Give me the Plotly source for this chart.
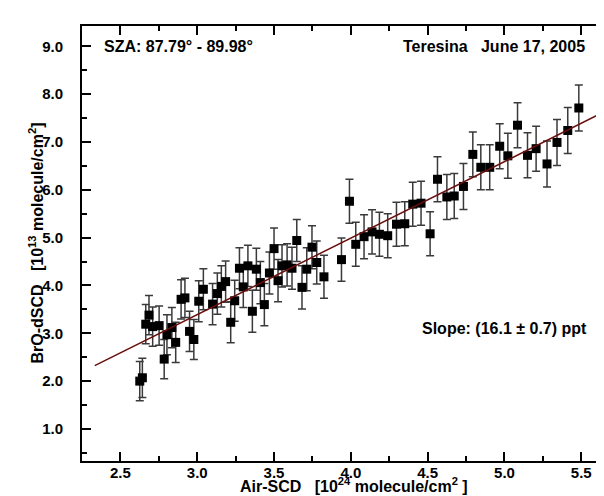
import plotly.graph_objects as go

# Data
air_scd = [2.626, 2.643, 2.665, 2.686, 2.710, 2.752, 2.785, 2.803, 2.835, 2.860,
           2.895, 2.920, 2.950, 2.978, 3.010, 3.040, 3.100, 3.131, 3.157, 3.185,
           3.218, 3.244, 3.275, 3.300, 3.330, 3.359, 3.385, 3.411, 3.437, 3.470,
           3.500, 3.526, 3.552, 3.585, 3.617, 3.648, 3.682, 3.713, 3.747, 3.778,
           3.825, 3.939, 3.991, 4.032, 4.086, 4.138, 4.186, 4.240, 4.297, 4.351,
           4.403, 4.457, 4.516, 4.564, 4.625, 4.673, 4.733, 4.794, 4.846, 4.904,
           4.969, 5.022, 5.085, 5.150, 5.206, 5.277, 5.342, 5.412, 5.484]
bro_dscd = [2.00, 2.07, 3.19, 3.38, 3.14, 3.16, 2.46, 2.97, 3.12, 2.81,
            3.71, 3.74, 3.04, 2.87, 3.67, 3.92, 3.61, 3.83, 3.98, 4.08,
            3.23, 3.68, 4.36, 3.97, 4.41, 3.46, 4.34, 4.06, 3.60, 4.26,
            4.77, 4.10, 4.41, 4.43, 4.36, 4.94, 3.96, 4.34, 4.80, 4.48,
            4.18, 4.54, 5.76, 4.86, 5.02, 5.12, 5.07, 5.04, 5.28, 5.29,
            5.70, 5.72, 5.08, 6.22, 5.85, 5.87, 6.07, 6.74, 6.47, 6.47,
            6.91, 6.71, 7.35, 6.72, 6.86, 6.54, 6.99, 7.24, 7.71]
bro_err = [0.41, 0.41, 0.41, 0.41, 0.41, 0.41, 0.41, 0.42, 0.42, 0.42,
           0.41, 0.41, 0.42, 0.42, 0.43, 0.43, 0.43, 0.43, 0.43, 0.43,
           0.43, 0.43, 0.43, 0.43, 0.43, 0.44, 0.44, 0.44, 0.44, 0.44,
           0.43, 0.44, 0.44, 0.44, 0.44, 0.44, 0.45, 0.45, 0.45, 0.45,
           0.45, 0.45, 0.46, 0.46, 0.46, 0.46, 0.46, 0.46, 0.46, 0.46,
           0.46, 0.46, 0.46, 0.47, 0.47, 0.47, 0.48, 0.47, 0.47, 0.47,
           0.47, 0.47, 0.47, 0.47, 0.47, 0.48, 0.48, 0.48, 0.48]

fit_x = [2.333, 5.75]
fit_slope = 1.60
fit_intercept = -1.41

x_tickvals = [2.5, 3.0, 3.5, 4.0, 4.5, 5.0, 5.5]
x_ticktext = ["2.5", "3.0", "3.5", "4.0", "4.5", "5.0", "5.5"]
y_tickvals = [1, 2, 3, 4, 5, 6, 7, 8, 9]
y_ticktext = ["1.0", "2.0", "3.0", "4.0", "5.0", "6.0", "7.0", "8.0", "9.0"]

FONT = "Liberation Sans, Arial, sans-serif"
FS_TICK = 15
FS_TEXT = 16

fig = go.Figure()
fig.add_trace(go.Scatter(
    x=air_scd, y=bro_dscd, mode="markers",
    marker=dict(symbol="square", size=9, color="black"),
    error_y=dict(type="data", array=bro_err, visible=True,
                 color="#3a3a3a", thickness=1.5, width=4),
    showlegend=False, hoverinfo="skip"))
fig.add_trace(go.Scatter(
    x=fit_x, y=[fit_slope * v + fit_intercept for v in fit_x], mode="lines",
    line=dict(color="#6a0d0d", width=1.5), showlegend=False, hoverinfo="skip"))

axis_common = dict(
    showgrid=False, zeroline=False, showline=True, linecolor="black", linewidth=2,
    mirror="allticks", ticks="inside", ticklen=9, tickwidth=2, tickcolor="black",
    automargin=False,
    tickfont=dict(family=FONT, size=FS_TICK, color="black", weight="bold"),
)
fig.update_xaxes(range=[2.25, 5.70], tickvals=x_tickvals, ticktext=x_ticktext,
                 minor=dict(ticks="inside", ticklen=5, tickwidth=2, tickcolor="black", dtick=0.25, tick0=2.25),
                 ticklabelstandoff=-3, **axis_common)
fig.update_yaxes(range=[0.33, 9.424], tickvals=y_tickvals, ticktext=y_ticktext,
                 minor=dict(ticks="inside", ticklen=5, tickwidth=2, tickcolor="black", dtick=0.5, tick0=0.5),
                 ticklabelstandoff=14, **axis_common)

ann_font = dict(family=FONT, size=FS_TEXT, color="black", weight="bold")
fig.add_annotation(text="SZA: 87.79° - 89.98°", x=2.38, y=9.0, xref="x", yref="y",
                   xanchor="left", yanchor="middle", showarrow=False, font=ann_font)
fig.add_annotation(text="Teresina   June 17, 2005", x=5.54, y=9.0, xref="x", yref="y",
                   xanchor="right", yanchor="middle", showarrow=False, font=ann_font)
fig.add_annotation(text="Slope: (16.1 ± 0.7) ppt", x=4.45, y=3.1, xref="x", yref="y",
                   xanchor="left", yanchor="middle", showarrow=False, font=ann_font)
fig.add_annotation(text="Air-SCD   [10<sup>24</sup> molecule/cm<sup>2</sup> ]",
                   x=0.5, y=0, xref="paper", yref="paper", xshift=7, yshift=-36,
                   xanchor="center", yanchor="bottom", showarrow=False, font=ann_font)
fig.add_annotation(text="BrO-dSCD   [10<sup>13</sup> molecule/cm<sup>2</sup>]",
                   x=0, y=0.5, xref="paper", yref="paper", xshift=-46, textangle=-90,
                   xanchor="center", yanchor="middle", showarrow=False, font=ann_font)

fig.update_layout(width=604, height=496, margin=dict(l=74, r=0, t=18, b=43),
                  paper_bgcolor="white", plot_bgcolor="white")
fig.write_html("out.html")
